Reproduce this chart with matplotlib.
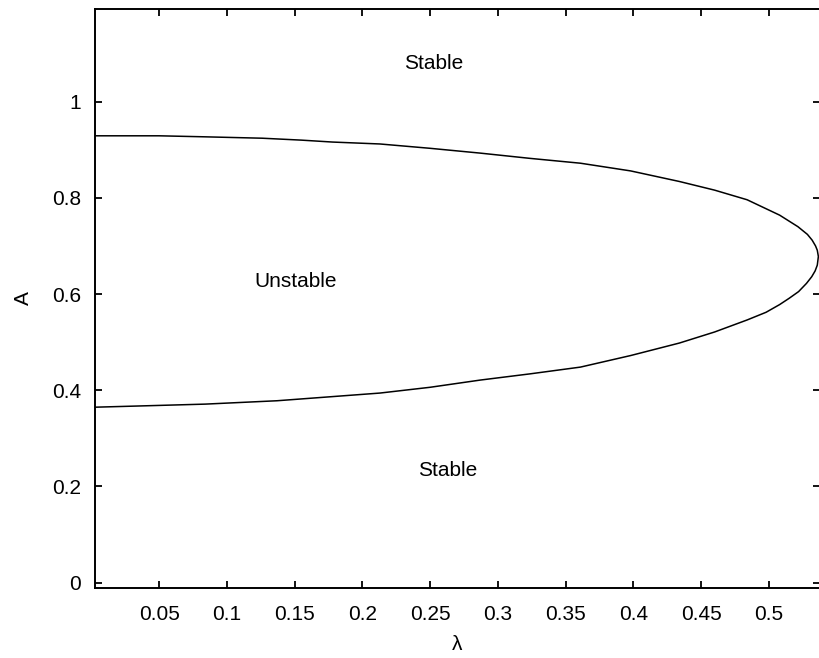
import matplotlib
matplotlib.use('Agg')
import matplotlib.pyplot as plt
import numpy as np

# stability boundary (upper branch goes left -> tip)
lam_upper = [0.0027, 0.05, 0.082, 0.126, 0.155, 0.178, 0.213, 0.25, 0.287, 0.324,
             0.361, 0.398, 0.434, 0.46, 0.484, 0.508, 0.5215, 0.5285, 0.532, 0.5345,
             0.5358, 0.5366]
A_upper = [0.929, 0.929, 0.927, 0.924, 0.920, 0.916, 0.912, 0.903, 0.893, 0.882,
           0.872, 0.856, 0.834, 0.816, 0.796, 0.764, 0.740, 0.724, 0.712, 0.700,
           0.691, 0.678]

# lower branch goes tip -> left
lam_lower = [0.5358, 0.5342, 0.5317, 0.5278, 0.522, 0.515, 0.508, 0.498, 0.484, 0.46,
             0.434, 0.398, 0.361, 0.324, 0.287, 0.25, 0.213, 0.137, 0.084, 0.0335, 0.0027]
A_lower = [0.660, 0.648, 0.636, 0.622, 0.605, 0.591, 0.578, 0.562, 0.546, 0.521,
           0.498, 0.472, 0.448, 0.434, 0.421, 0.406, 0.394, 0.378, 0.371, 0.367, 0.3646]

region_labels = ['Stable', 'Unstable', 'Stable']
region_x = [0.253, 0.151, 0.263]
region_y = [1.080, 0.627, 0.232]

xticks = [0.05, 0.1, 0.15, 0.2, 0.25, 0.3, 0.35, 0.4, 0.45, 0.5]
yticks = [0, 0.2, 0.4, 0.6, 0.8, 1]

plt.rcParams['font.family'] = ['Liberation Sans', 'DejaVu Sans']

fig = plt.figure(figsize=(8.19, 6.58), dpi=100)
ax = fig.add_axes([95 / 819, 70 / 658, 725 / 819, 579 / 658])

lam = np.concatenate([lam_upper, lam_lower])
A = np.concatenate([A_upper, A_lower])
ax.plot(lam, A, color='black', linewidth=1.1)

for lab, x, y in zip(region_labels, region_x, region_y):
    ax.text(x, y, lab, ha='center', va='center', fontsize=15)

ax.set_xlim(0.0027, 0.5378)
ax.set_ylim(-0.0114, 1.1927)
ax.set_xticks(xticks)
ax.set_yticks(yticks)
ax.set_xticklabels(['%g' % t for t in xticks])
ax.set_yticklabels(['%g' % t for t in yticks])
ax.tick_params(direction='in', top=True, right=True, length=5, width=1.3,
               labelsize=15)
ax.tick_params(axis='x', pad=12)
ax.tick_params(axis='y', pad=10)
for s in ax.spines.values():
    s.set_linewidth(1.4)

ax.set_xlabel('λ', fontsize=15, labelpad=8)
ax.set_ylabel('A', fontsize=15, labelpad=14)

fig.savefig('out.png', dpi=100)
